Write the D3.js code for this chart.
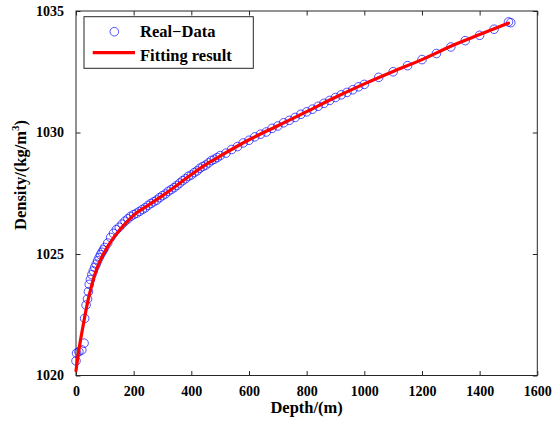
<!DOCTYPE html>
<html>
<head>
<meta charset="utf-8">
<script src="https://cdn.jsdelivr.net/npm/d3@7"></script>
<style>
  html, body { margin: 0; padding: 0; background: #fff; }
  svg { display: block; }
  text { font-family: "Liberation Serif", "Times New Roman", serif; font-weight: bold; fill: #000; }
</style>
</head>
<body>
<svg id="chart" width="553" height="422"></svg>
<script>
// Measured density profile (depth in m, density in kg/m^3)
const obsDepth = [0, 2, 10, 20, 28, 30, 35, 40, 43, 46, 50, 55, 60, 65, 70, 75, 80, 85, 90, 95,
  100, 110, 120, 130, 140, 150, 160, 170, 180, 190, 200, 210, 220, 230, 240, 250, 260, 270, 280, 290,
  300, 310, 320, 330, 340, 350, 360, 370, 380, 390, 400, 410, 420, 430, 440, 450, 460, 470, 480, 490,
  500, 520, 540, 560, 580, 600, 620, 640, 660, 680, 700, 720, 740, 760, 780, 800, 820, 840, 860, 880,
  900, 920, 940, 960, 980, 1000, 1050, 1100, 1150, 1200, 1250, 1300, 1350, 1400, 1450, 1500, 1508];
const obsDensity = [1020.6, 1020.92, 1020.98, 1021.05, 1021.33, 1022.35, 1022.9, 1023.15, 1023.45, 1023.75,
  1023.95, 1024.15, 1024.3, 1024.45, 1024.58, 1024.72, 1024.85, 1024.97, 1025.07, 1025.17,
  1025.27, 1025.45, 1025.68, 1025.85, 1026.0, 1026.1, 1026.23, 1026.35, 1026.45, 1026.55,
  1026.62, 1026.68, 1026.75, 1026.83, 1026.9, 1027.0, 1027.08, 1027.15, 1027.22, 1027.32,
  1027.4, 1027.47, 1027.58, 1027.65, 1027.73, 1027.82, 1027.92, 1028.02, 1028.1, 1028.2,
  1028.25, 1028.35, 1028.42, 1028.53, 1028.6, 1028.66, 1028.75, 1028.85, 1028.9, 1028.97,
  1029.05, 1029.15, 1029.3, 1029.42, 1029.57, 1029.68, 1029.82, 1029.93, 1030.02, 1030.17,
  1030.27, 1030.4, 1030.5, 1030.62, 1030.75, 1030.85, 1030.96, 1031.08, 1031.2, 1031.32,
  1031.44, 1031.55, 1031.65, 1031.76, 1031.88, 1031.98, 1032.27, 1032.5, 1032.75, 1033.0,
  1033.25, 1033.52, 1033.78, 1034.0, 1034.25, 1034.55, 1034.52];

// Fitted profile sampled along depth
const fitDepth = [0, 10, 20, 30, 40, 50, 60, 70, 80, 90, 100, 125, 150, 175, 200, 250, 300, 350,
  400, 450, 500, 600, 700, 800, 900, 1000, 1100, 1200, 1300, 1400, 1500];
const fitDensity = [1020.2, 1021.05, 1021.75, 1022.4, 1023.0, 1023.5, 1023.95, 1024.32, 1024.62,
  1024.88, 1025.1, 1025.58, 1025.97, 1026.3, 1026.6, 1027.0, 1027.4, 1027.83, 1028.27, 1028.68,
  1029.03, 1029.7, 1030.28, 1030.86, 1031.45, 1032.0, 1032.51, 1033.0, 1033.55, 1034.03, 1034.5];

// Axis ticks and labels
const xTicks = [0, 200, 400, 600, 800, 1000, 1200, 1400, 1600];
const yTicks = [1020, 1025, 1030, 1035];
const xTitle = "Depth/(m)";
const yTitle = "Density/(kg/m";
const legendLabels = ["Real\u2212Data", "Fitting result"];

const svg = d3.select("#chart");
const plotL = 76, plotR = 537.3, plotT = 11, plotB = 375.5;

const x = d3.scaleLinear().domain([0, 1600]).range([plotL, plotR]);
const y = d3.scaleLinear().domain([1020, 1035]).range([plotB, plotT]);

const axisColor = "#262626";
const tickLen = 4.5;

// Axes with inward ticks on all four sides
const gx = svg.append("g").attr("transform", `translate(0,${plotB})`)
  .call(d3.axisBottom(x).tickValues(xTicks).tickSizeInner(-tickLen).tickSizeOuter(0).tickPadding(11)
    .tickFormat(d3.format("d")));
const gxTop = svg.append("g").attr("transform", `translate(0,${plotT})`)
  .call(d3.axisTop(x).tickValues(xTicks).tickSizeInner(-tickLen).tickSizeOuter(0).tickFormat(""));
const gy = svg.append("g").attr("transform", `translate(${plotL},0)`)
  .call(d3.axisLeft(y).tickValues(yTicks).tickSizeInner(-tickLen).tickSizeOuter(0).tickPadding(12)
    .tickFormat(d3.format("d")));
const gyRight = svg.append("g").attr("transform", `translate(${plotR},0)`)
  .call(d3.axisRight(y).tickValues(yTicks).tickSizeInner(-tickLen).tickSizeOuter(0).tickFormat(""));

[gx, gxTop, gy, gyRight].forEach(g => {
  g.select(".domain").remove();
  g.selectAll(".tick line").attr("stroke", axisColor).attr("stroke-width", 1);
  g.selectAll(".tick text").attr("font-size", 14).attr("font-family", "Liberation Serif")
    .attr("font-weight", "bold").attr("fill", "#000");
});
gx.selectAll(".tick text").attr("dy", "0.71em");

// Plot frame
svg.append("rect")
  .attr("x", plotL).attr("y", plotT)
  .attr("width", plotR - plotL).attr("height", plotB - plotT)
  .attr("fill", "none").attr("stroke", axisColor).attr("stroke-width", 1);

// Observed points
const obs = obsDepth.map((d, i) => ({ depth: d, density: obsDensity[i] }));
svg.append("g").selectAll("circle").data(obs).join("circle")
  .attr("cx", d => x(d.depth)).attr("cy", d => y(d.density)).attr("r", 4.3)
  .attr("fill", "none").attr("stroke", "#0000ff").attr("stroke-opacity", 0.75).attr("stroke-width", 0.9);

// Fitted curve
const fit = fitDepth.map((d, i) => ({ depth: d, density: fitDensity[i] }));
svg.append("path").datum(fit)
  .attr("d", d3.line().x(d => x(d.depth)).y(d => y(d.density)).curve(d3.curveMonotoneX))
  .attr("fill", "none").attr("stroke", "#ff0000").attr("stroke-width", 3.2)
  .attr("stroke-linecap", "round").attr("stroke-linejoin", "round");

// Axis titles
svg.append("text").attr("x", (plotL + plotR) / 2).attr("y", 413)
  .attr("text-anchor", "middle").attr("font-size", 16.5).text(xTitle);
const yt = svg.append("text").attr("transform", "translate(26,175) rotate(-90)")
  .attr("text-anchor", "middle").attr("font-size", 16.5);
yt.append("tspan").text(yTitle);
yt.append("tspan").attr("font-size", 11).attr("dy", -7).text("3");
yt.append("tspan").attr("dy", 7).text(")");

// Legend
const lg = svg.append("g");
lg.append("rect").attr("x", 84).attr("y", 16.7).attr("width", 169.3).attr("height", 51.6)
  .attr("fill", "#fff").attr("stroke", axisColor).attr("stroke-width", 1);
lg.append("circle").attr("cx", 114.3).attr("cy", 31.7).attr("r", 4.3)
  .attr("fill", "none").attr("stroke", "#0000ff").attr("stroke-opacity", 0.75).attr("stroke-width", 0.9);
lg.append("line").attr("x1", 92.7).attr("x2", 135).attr("y1", 52.7).attr("y2", 52.7)
  .attr("stroke", "#ff0000").attr("stroke-width", 3.2);
lg.append("text").attr("x", 140).attr("y", 37).attr("font-size", 16.5).text(legendLabels[0]);
lg.append("text").attr("x", 140).attr("y", 61).attr("font-size", 16.5).text(legendLabels[1]);
</script>
</body>
</html>
